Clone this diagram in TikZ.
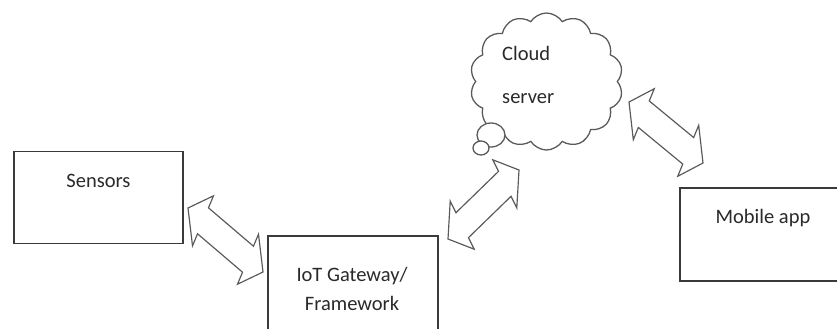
\documentclass[tikz,border=0pt]{standalone}
\usepackage{fontspec}
\setmainfont{Carlito}
\usetikzlibrary{shapes.symbols,shapes.geometric,calc}
\definecolor{boxline}{HTML}{3A3A3A}
\definecolor{arrline}{HTML}{5A5A5A}
\definecolor{txt}{HTML}{2A2A2A}
\tikzset{
  box/.style={draw=boxline, line width=1.4pt, fill=white, inner sep=0pt},
  lbl/.style={text=txt, font=\fontsize{17.5}{24.5}\selectfont, inner sep=0pt},
  barrow/.style={draw=arrline, line width=1pt, fill=white, line join=miter},
  cloudshape/.style={cloud, draw=arrline, line width=1.1pt, fill=white, cloud puffs=14, cloud puff arc=115, inner sep=0pt},
  bubble/.style={ellipse, draw=arrline, line width=1.1pt, fill=white, inner sep=0pt}
}
\newcommand\blockdarrow[3]{%
  \draw[barrow] (#1)
   -- ($(#1)!0.2!(#2) + (#3)$)
   -- ($(#1)!0.2!(#2) + 0.52*(#3)$)
   -- ($(#1)!0.8!(#2) + 0.52*(#3)$)
   -- ($(#1)!0.8!(#2) + (#3)$)
   -- (#2)
   -- ($(#1)!0.8!(#2) - (#3)$)
   -- ($(#1)!0.8!(#2) - 0.52*(#3)$)
   -- ($(#1)!0.2!(#2) - 0.52*(#3)$)
   -- ($(#1)!0.2!(#2) - (#3)$)
   -- cycle;}
\begin{document}
\begin{tikzpicture}[x=0.03cm,y=-0.03cm]
\clip (0,0) rectangle (837,328);
\fill[white] (0,0) rectangle (837,328);

% boxes
\node[box, minimum width=5.07cm, minimum height=2.76cm] (sensors) at (98.5,197.5) {};
\node[box, minimum width=5.1cm, minimum height=3cm] (gateway) at (353,286) {};
\node[box, minimum width=5.1cm, minimum height=2.79cm] (mobile) at (765,234.5) {};

% cloud
\node[cloudshape, minimum width=4.59cm, minimum height=4.11cm] (cloud) at (546.5,81.5) {};
\node[bubble, minimum width=0.84cm, minimum height=0.72cm] (bubbleA) at (491,135) {};
\node[bubble, minimum width=0.48cm, minimum height=0.42cm] (bubbleB) at (481,148) {};

% texts
\node[lbl, anchor=base] (sensorsT) at (98.5,187) {Sensors};
\node[lbl, anchor=base, align=center] (gatewayT) at (352,310) {IoT Gateway/\\Framework};
\node[lbl, anchor=base] (mobileT) at (763,223) {Mobile app};
\node[lbl, anchor=base west, align=left, font=\fontsize{17.5}{36}\selectfont] (cloudT) at (502,103) {Cloud\\server};

% block double arrows
\coordinate (a1s) at (188,208);
\coordinate (a1e) at (263,272);
\coordinate (a1v) at (10.5,-25);
\coordinate (a2s) at (448,239);
\coordinate (a2e) at (519,170);
\coordinate (a2v) at (-12,-24);
\coordinate (a3s) at (629,102);
\coordinate (a3e) at (703,163);
\coordinate (a3v) at (10.5,-25.5);
\blockdarrow{a1s}{a1e}{a1v}
\blockdarrow{a2s}{a2e}{a2v}
\blockdarrow{a3s}{a3e}{a3v}
\end{tikzpicture}
\end{document}
